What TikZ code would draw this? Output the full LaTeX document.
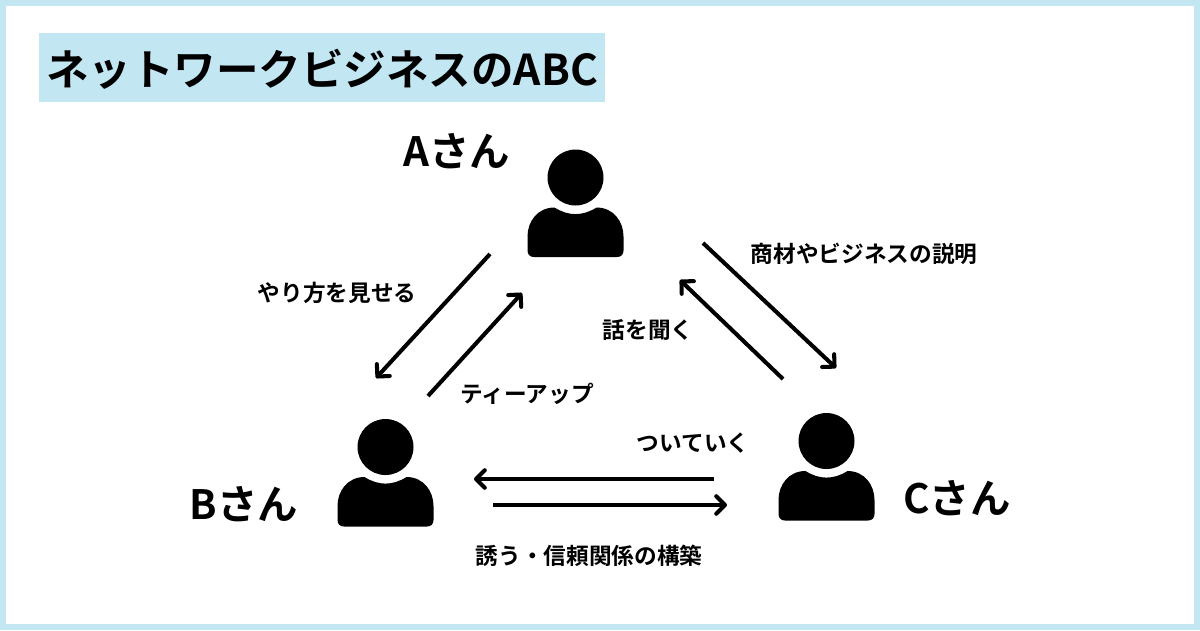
\documentclass[tikz,border=0pt]{standalone}
\usepackage{fontspec}
\usepackage{xcolor}
\usetikzlibrary{arrows.meta,positioning}
\setmainfont{Noto Sans CJK JP}[BoldFont={* Bold}]
\definecolor{frame}{RGB}{194, 231, 243}
\tikzstyle{heading} = [
    rectangle,
    fill=frame,
    inner sep=0pt,
    text height=0.9cm,
    text depth=0.2cm,
    minimum width=11.32cm,
    minimum height=1.38cm,
    font=\fontsize{24.2pt}{28pt}\selectfont\bfseries
]
\tikzstyle{speaker} = [
    inner sep=0pt,
    font=\fontsize{23pt}{27pt}\selectfont\bfseries
]
\tikzstyle{caption} = [
    inner sep=0pt,
    font=\fontsize{12.9pt}{15pt}\selectfont\bfseries
]
\tikzstyle{arrow} = [
    line width=2.3pt,
    -{Straight Barb[length=5pt,width=10pt,round]},
    draw=black
]
\tikzset{
    person/.pic={
        \fill[black] (0,0) circle [radius=28];
        \fill[black] (-21,30)
            .. controls (-7,38.8) and (7,38.8) .. (21,30)
            .. controls (38,30) and (48,44) .. (48,59)
            -- (48,73) .. controls (48,77) and (45.5,79.5) .. (41.5,79.5)
            -- (-41.5,79.5) .. controls (-45.5,79.5) and (-48,77) .. (-48,73)
            -- (-48,59) .. controls (-48,44) and (-38,30) .. (-21,30) -- cycle;
    }
}
\begin{document}
\begin{tikzpicture}[x=0.02cm,y=-0.02cm]
    \fill[frame] (0,0) rectangle (1200,630);
    \fill[white] (6,6) rectangle (1194,624);
    \node[heading] (title) at (322,67.5) {ネットワークビジネスのABC};
    % people
    \foreach \n/\x/\y in {personA/575.5/177.5, personB/385.5/447, personC/826.5/441} {
        \pic (\n) at (\x,\y) {person};
    }
    \foreach \n/\x/\y/\t in {
        nameA/457/151/Aさん,
        nameB/244/504/Bさん,
        nameC/957/498/Cさん
    } {
        \node[speaker] (\n) at (\x,\y) {\t};
    }
    \foreach \n/\x/\y/\t in {
        explain/864/254/商材やビジネスの説明,
        show/337/292.5/やり方を見せる,
        listen/648/330/話を聞く,
        teeup/527/394/ティーアップ,
        follow/693/443/ついていく,
        invite/589/556/誘う・信頼関係の構築
    } {
        \node[caption] (\n) at (\x,\y) {\t};
    }
    % arrows
    \foreach \n/\a/\b/\c/\d in {
        ab/490/254/376/378,
        ba/428/396/522/293,
        ac/703/243/836/368,
        ca/783/379/680/280,
        cb/714/479/474/479,
        bc/493/505/727/505
    } {
        \coordinate (\n from) at (\a,\b);
        \coordinate (\n to) at (\c,\d);
        \draw[arrow] (\n from) -- (\n to);
    }
\end{tikzpicture}
\end{document}
